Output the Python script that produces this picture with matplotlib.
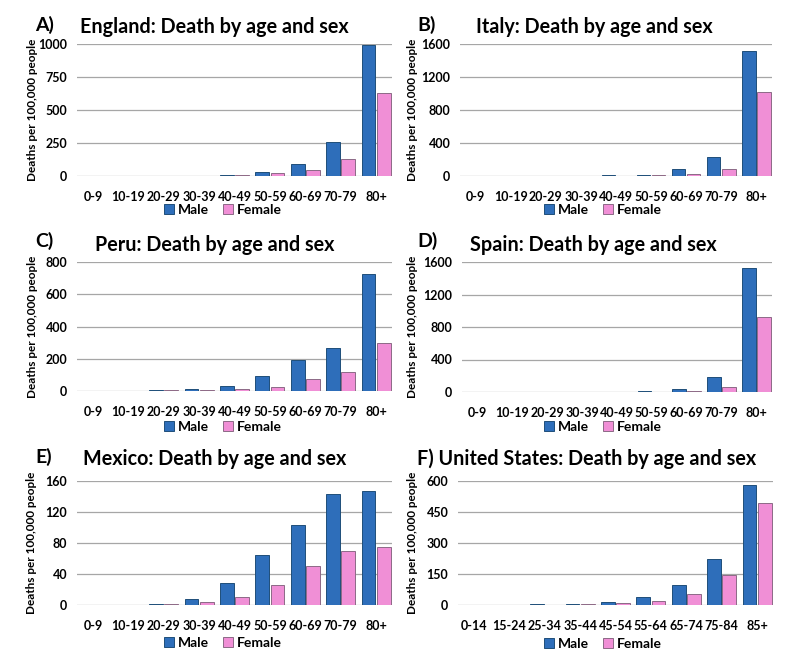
import matplotlib
matplotlib.use("Agg")
import matplotlib.pyplot as plt
from matplotlib.patches import Patch
import numpy as np

plt.rcParams['font.family'] = ['Lato', 'DejaVu Sans']

ages_10 = ["0-9", "10-19", "20-29", "30-39", "40-49", "50-59", "60-69", "70-79", "80+"]
ages_us = ["0-14", "15-24", "25-34", "35-44", "45-54", "55-64", "65-74", "75-84", "85+"]

england_male = [0, 0, 1, 3, 11, 33, 91, 256, 993]
england_female = [0, 0, 0.5, 1, 5, 20, 43, 127, 626]
italy_male = [0, 0, 1, 3, 10, 16, 80, 230, 1520]
italy_female = [0, 0, 0.5, 1, 3, 10, 24, 80, 1015]
peru_male = [0.5, 1, 8, 10, 33, 91, 190, 266, 724]
peru_female = [0.3, 0.5, 7, 8, 10, 27, 72, 118, 297]
spain_male = [0, 0, 1, 2, 5, 16, 37, 181, 1529]
spain_female = [0, 0, 0.5, 1, 1, 5, 16, 62, 925]
mexico_male = [0.1, 0.2, 1.3, 7.7, 29, 64.3, 103, 143.7, 147.5]
mexico_female = [0.1, 0.1, 0.8, 3.4, 10.7, 25.3, 50, 70, 75]
us_male = [0.1, 0.5, 3, 5, 14, 40, 95, 222, 581]
us_female = [0.1, 0.3, 1, 4, 10, 18, 51, 146, 494]

BLUE = "#2E6EBA"
BLUE_EDGE = "#1F4E79"
PINK = "#F08FD6"
PINK_EDGE = "#8C6A86"
GRID = "#A6A6A6"

W, H = 800, 672
fig = plt.figure(figsize=(W / 100, H / 100), dpi=100)

def fx(x):
    return x / W

def fy(y):
    return 1 - y / H

panels = [
    dict(box=(77, 44, 392, 176), cats=ages_10, m=england_male, f=england_female,
         ticks=[0, 250, 500, 750, 1000], letter="A)", lx=35, lb=31,
         title="England: Death by age and sex", tx=80, tb=33, ylx=33, legy=210, legx=223),
    dict(box=(460, 44, 772, 176), cats=ages_10, m=italy_male, f=italy_female,
         ticks=[0, 400, 800, 1200, 1600], letter="B)", lx=417, lb=31,
         title="Italy: Death by age and sex", tx=476, tb=33, ylx=413, legy=210, legx=603),
    dict(box=(77, 262, 392, 391), cats=ages_10, m=peru_male, f=peru_female,
         ticks=[0, 200, 400, 600, 800], letter="C)", lx=35, lb=247,
         title="Peru: Death by age and sex", tx=95, tb=251, ylx=33, legy=427, legx=223),
    dict(box=(462, 262, 772, 392), cats=ages_10, m=spain_male, f=spain_female,
         ticks=[0, 400, 800, 1200, 1600], letter="D)", lx=417, lb=247,
         title="Spain: Death by age and sex", tx=470, tb=251, ylx=413, legy=427, legx=603),
    dict(box=(77, 481, 392, 605), cats=ages_10, m=mexico_male, f=mexico_female,
         ticks=[0, 40, 80, 120, 160], letter="E)", lx=35, lb=463,
         title="Mexico: Death by age and sex", tx=83, tb=465, ylx=32, legy=643, legx=223),
    dict(box=(458, 481, 773, 605), cats=ages_us, m=us_male, f=us_female,
         ticks=[0, 150, 300, 450, 600], letter=None, lx=417, lb=465,
         title="F) United States: Death by age and sex", tx=417, tb=465, ylx=412, legy=644, legx=603),
]

for p in panels:
    x0, y0, x1, y1 = p["box"]
    ax = fig.add_axes([fx(x0), fy(y1), (x1 - x0) / W, (y1 - y0) / H])
    x = np.arange(len(p["cats"]))
    bw = 0.39
    off = 0.215
    ax.bar(x - off, p["m"], width=bw, color=BLUE, edgecolor=BLUE_EDGE, linewidth=0.7, zorder=3)
    ax.bar(x + off, p["f"], width=bw, color=PINK, edgecolor=PINK_EDGE, linewidth=0.7, zorder=3)
    ax.set_xlim(-0.45, len(p["cats"]) - 0.55)
    ax.set_ylim(0, p["ticks"][-1])
    ax.set_yticks(p["ticks"])
    ax.set_yticklabels([str(t) for t in p["ticks"]], fontsize=9, fontweight="bold")
    ax.set_xticks(x)
    ax.set_xticklabels(p["cats"], fontsize=9, fontweight="bold")
    ax.tick_params(axis="both", length=0)
    ax.tick_params(axis="x", pad=11)
    ax.tick_params(axis="y", pad=7)
    for s in ax.spines.values():
        s.set_visible(False)
    ax.yaxis.grid(True, color=GRID, linewidth=0.9, zorder=0)
    ax.set_axisbelow(True)
    ax.patch.set_alpha(0)
    fig.text(fx(p["ylx"]), fy((y0 + y1) / 2), "Deaths per 100,000 people", rotation=90,
             ha="center", va="center", fontsize=8.5, fontweight="bold")
    fig.text(fx(p["tx"]), fy(p["tb"]), p["title"], ha="left", va="baseline",
             fontsize=14.2, fontweight="bold")
    if p["letter"]:
        fig.text(fx(p["lx"]), fy(p["lb"]), p["letter"], ha="left", va="baseline",
                 fontsize=14, fontweight="bold")
    handles = [Patch(facecolor=BLUE, edgecolor=BLUE_EDGE, linewidth=0.7, label="Male"),
               Patch(facecolor=PINK, edgecolor=PINK_EDGE, linewidth=0.7, label="Female")]
    fig.legend(handles=handles, loc="center", bbox_to_anchor=(fx(p["legx"]), fy(p["legy"])),
               ncol=2, frameon=False, handlelength=0.7, handleheight=0.7,
               handletextpad=0.3, columnspacing=1.0, borderpad=0,
               prop=dict(weight="bold", size=10))

fig.savefig("out.png", dpi=100)
